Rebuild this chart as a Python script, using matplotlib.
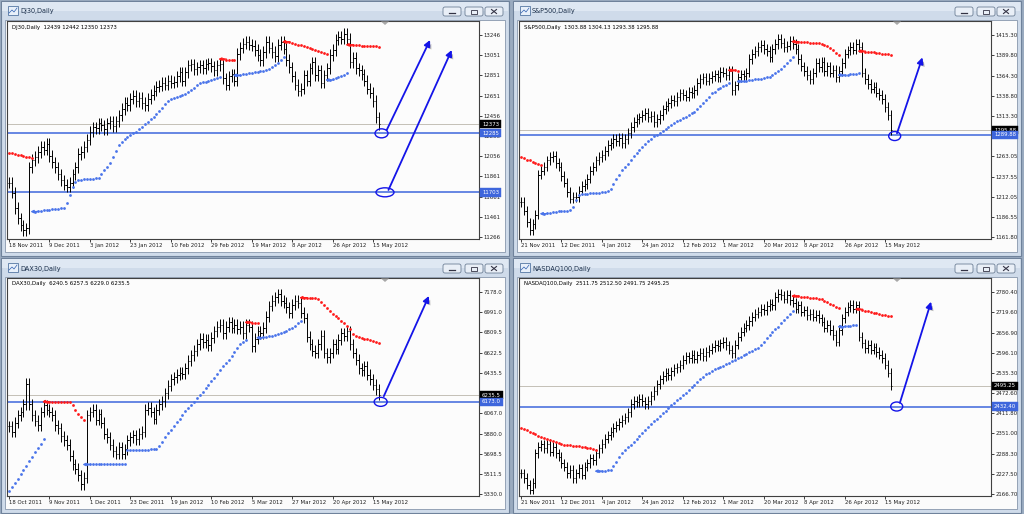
import matplotlib
matplotlib.use("Agg")
import matplotlib.pyplot as plt
from matplotlib.patches import Rectangle, Ellipse, FancyBboxPatch, Polygon
from matplotlib.collections import LineCollection
from matplotlib.transforms import blended_transform_factory
import matplotlib.patheffects as pe

# ---------------- data ----------------
titles = ["DJ30,Daily", "S&P500,Daily", "DAX30,Daily", "NASDAQ100,Daily"]
infos = ["DJ30,Daily  12439 12442 12350 12373",
         "S&P500,Daily  1303.88 1304.13 1293.38 1295.88",
         "DAX30,Daily  6240.5 6257.5 6229.0 6235.5",
         "NASDAQ100,Daily  2511.75 2512.50 2491.75 2495.25"]

dj_dates = ["18 Nov 2011", "9 Dec 2011", "3 Jan 2012", "23 Jan 2012", "10 Feb 2012",
            "29 Feb 2012", "19 Mar 2012", "8 Apr 2012", "26 Apr 2012", "15 May 2012"]
sp_dates = ["21 Nov 2011", "12 Dec 2011", "4 Jan 2012", "24 Jan 2012", "12 Feb 2012",
            "1 Mar 2012", "20 Mar 2012", "8 Apr 2012", "26 Apr 2012", "15 May 2012"]
dax_dates = ["18 Oct 2011", "9 Nov 2011", "1 Dec 2011", "23 Dec 2011", "19 Jan 2012",
             "10 Feb 2012", "5 Mar 2012", "27 Mar 2012", "20 Apr 2012", "15 May 2012"]
ndx_dates = ["21 Nov 2011", "12 Dec 2011", "4 Jan 2012", "24 Jan 2012", "12 Feb 2012",
             "1 Mar 2012", "20 Mar 2012", "8 Apr 2012", "26 Apr 2012", "15 May 2012"]

dj_yticks = [11266, 11461, 11661, 11861, 12056, 12256, 12456, 12651, 12851, 13051, 13246]
sp_yticks = [1161.80, 1186.55, 1212.05, 1237.55, 1263.05, 1288.55, 1313.30, 1338.80, 1364.30, 1389.80, 1415.30]
dax_yticks = [5330.0, 5511.5, 5698.5, 5880.0, 6067.0, 6254.0, 6435.5, 6622.5, 6809.5, 6991.0, 7178.0]
ndx_yticks = [2166.70, 2227.50, 2288.30, 2351.00, 2411.80, 2472.60, 2535.30, 2596.10, 2656.90, 2719.60, 2780.40]

dj_close = [
    11800, 11700, 11550, 11450, 11380, 11330, 11350, 11950, 12020, 12050,
    12100, 12150, 12120, 12180, 12060, 12000, 11950, 11880, 11820, 11780,
    11760, 11800, 11880, 11950, 12080, 12100, 12150, 12220, 12300, 12340,
    12330, 12380, 12360, 12320, 12380, 12400, 12350, 12400, 12460, 12520,
    12580, 12560, 12620, 12650, 12600, 12630, 12580, 12560, 12620, 12660,
    12700, 12740, 12750, 12780, 12760, 12800, 12780, 12790, 12840, 12880,
    12800, 12880, 12950, 12960, 12910, 12930, 12950, 12920, 12960, 12970,
    12940, 12900, 12950, 12960, 12820, 12760, 12840, 12860, 12800, 13060,
    13120, 13160, 13180, 13150, 13140, 13100, 13050, 13000, 13080, 13180,
    13120, 13080, 13040, 13150, 13180, 13110, 13000, 12930, 12840, 12760,
    12700, 12720, 12850, 12800, 12920, 12980, 12850, 12900, 12780, 12850,
    12920, 13050, 13100, 13200, 13230, 13210, 13260, 13210, 12980, 13020,
    12920, 12900, 12860, 12800, 12720, 12680, 12600, 12440, 12373]

sp_close = [
    1206, 1195, 1180, 1170, 1178, 1190, 1240, 1245, 1250, 1258,
    1262, 1264, 1255, 1250, 1238, 1230, 1218, 1210, 1212, 1212,
    1220, 1226, 1228, 1235, 1245, 1250, 1258, 1262, 1265, 1270,
    1277, 1280, 1285, 1282, 1286, 1280, 1285, 1292, 1300, 1306,
    1310, 1312, 1315, 1318, 1312, 1314, 1306, 1310, 1315, 1322,
    1326, 1330, 1334, 1332, 1338, 1342, 1340, 1338, 1344, 1342,
    1346, 1355, 1360, 1362, 1358, 1361, 1364, 1366, 1362, 1369,
    1368, 1365, 1370, 1346, 1352, 1362, 1366, 1364, 1368, 1385,
    1392, 1395, 1400, 1403, 1398, 1395, 1388, 1398, 1404, 1410,
    1405, 1400, 1402, 1408, 1404, 1398, 1385, 1376, 1370, 1365,
    1360, 1368, 1380, 1375, 1382, 1370, 1376, 1368, 1372, 1362,
    1370, 1380, 1392, 1396, 1400, 1397, 1404, 1400, 1368, 1360,
    1354, 1348, 1350, 1343, 1340, 1335, 1325, 1315, 1295.88]

dax_close = [
    5950, 5900, 5980, 6050, 6080, 6150, 6340, 6150, 6050, 6000,
    5960, 6080, 6140, 6100, 6080, 6050, 5960, 5930, 5860, 5820,
    5780, 5680, 5600, 5560, 5500, 5420, 5480, 6050, 6080, 6100,
    6010, 6060, 5980, 5880, 5850, 5780, 5720, 5700, 5760, 5700,
    5740, 5820, 5850, 5870, 5830, 5880, 5900, 6100, 6120, 6080,
    6020, 6100, 6150, 6180, 6250, 6320, 6380, 6400, 6420, 6440,
    6430, 6480, 6550, 6600, 6640, 6700, 6750, 6720, 6740, 6690,
    6760, 6820, 6860, 6880, 6800, 6860, 6900, 6850, 6880, 6840,
    6860, 6800, 6880, 6860, 6680, 6750, 6820, 6800, 6850, 6950,
    7050, 7100, 7130, 7160, 7100, 7080, 7040, 6990, 7060, 7100,
    7080, 6990, 6940, 6770, 6700, 6640, 6620, 6700, 6780, 6620,
    6580, 6620, 6700, 6660, 6740, 6800, 6780, 6820, 6700, 6620,
    6560, 6480, 6460, 6500, 6420, 6380, 6330, 6290, 6235.5]

ndx_close = [
    2230, 2215, 2195, 2180, 2200, 2290, 2310, 2318, 2305, 2320,
    2295, 2310, 2290, 2280, 2260, 2250, 2230, 2240, 2215, 2230,
    2245, 2225, 2250, 2260, 2275, 2270, 2290, 2305, 2320, 2335,
    2345, 2355, 2368, 2375, 2385, 2392, 2400, 2415, 2440, 2450,
    2445, 2455, 2448, 2440, 2450, 2465, 2480, 2500, 2515, 2525,
    2535, 2528, 2540, 2548, 2552, 2560, 2575, 2585, 2580, 2590,
    2578, 2588, 2595, 2585, 2598, 2605, 2612, 2620, 2615, 2625,
    2630, 2618, 2605, 2595, 2620, 2645, 2660, 2672, 2680, 2692,
    2705, 2715, 2720, 2730, 2725, 2738, 2745, 2740, 2765, 2775,
    2770, 2760, 2772, 2755, 2748, 2730, 2740, 2720, 2725, 2710,
    2715, 2705, 2712, 2700, 2690, 2672, 2680, 2665, 2650, 2630,
    2665, 2700, 2720, 2735, 2742, 2730, 2740, 2645, 2625, 2610,
    2620, 2605, 2612, 2598, 2590, 2580, 2560, 2535, 2495.25]

# trailing-stop segments: ("d" = red above price, "u" = blue below price), consecutive bars
dj_stops = [
    ("d", [12090, 12085, 12080, 12072, 12065, 12060, 12055, 12050, 12045]),
    ("u", [11515, 11520, 11523, 11526, 11530, 11533, 11536, 11540, 11543, 11547, 11552,
           11600, 11680, 11760, 11810, 11825,
           11828, 11830, 11832, 11835, 11838, 11840, 11845,
           11880, 11920, 11955, 11990, 12050, 12110, 12170, 12200, 12225, 12245, 12265, 12282, 12300,
           12320, 12345, 12370, 12395, 12420, 12446,
           12475, 12505, 12535, 12565, 12600, 12615,
           12628, 12640, 12650, 12660, 12672, 12685,
           12705, 12730, 12752, 12772,
           12782, 12790, 12800, 12808, 12816, 12825, 12838]),
    ("d", [13010, 13005, 13003, 13000, 12998]),
    ("u", [12850, 12855, 12860, 12865, 12870, 12875, 12880, 12885, 12890, 12898, 12906,
           12915, 12930, 12950, 12975, 13000, 13030]),
    ("d", [13180, 13175, 13168, 13160, 13150, 13145, 13138, 13130, 13120, 13110, 13100,
           13090, 13080, 13068, 13055]),
    ("u", [12805, 12815, 12825, 12835, 12845, 12858, 12870]),
    ("d", [13150, 13148, 13146, 13145, 13143, 13141, 13140, 13138, 13136, 13134, 13132]),
]
sp_stops = [
    ("d", [1262, 1261, 1259, 1258, 1256, 1255, 1253, 1252]),
    ("u", [1191, 1192, 1192, 1193, 1193, 1194, 1194, 1195, 1195, 1196,
           1200, 1208, 1215,
           1216, 1216, 1216, 1217, 1217, 1217, 1217, 1218, 1218, 1219,
           1222, 1228, 1234, 1240, 1246, 1250,
           1254, 1258, 1263, 1267, 1271, 1275, 1279,
           1282, 1285, 1288, 1290, 1292,
           1295, 1297, 1300, 1302, 1305, 1307, 1309,
           1311, 1313, 1315, 1317, 1319,
           1322, 1326, 1330, 1334, 1338, 1342,
           1344, 1347, 1349, 1351, 1353, 1355]),
    ("d", [1371, 1371, 1370]),
    ("u", [1357, 1357.5, 1358, 1358.5, 1359, 1359.5, 1360, 1360.5, 1361, 1362, 1363, 1365,
           1367, 1370, 1373, 1376, 1380, 1384, 1388]),
    ("d", [1407, 1407, 1406.5, 1406, 1406, 1405.5, 1405, 1405, 1405, 1404.5, 1403, 1401,
           1399, 1396, 1393, 1390]),
    ("u", [1365, 1365, 1365.5, 1366, 1366, 1366.5, 1367]),
    ("d", [1395, 1394.5, 1394, 1393.8, 1393.5, 1393, 1392.5, 1392, 1391.5, 1391, 1390.5]),
]
dax_stops = [
    ("u", [5360, 5395, 5430, 5470, 5510, 5550, 5590, 5630, 5670, 5710, 5750, 5790, 5830]),
    ("d", [6175, 6174, 6173, 6172, 6172, 6171, 6170, 6170, 6168, 6140, 6100, 6060, 6030, 6010]),
    ("u", [5600, 5601, 5601, 5602, 5602, 5603, 5603, 5604, 5604, 5605, 5605, 5606, 5606, 5607,
           5730, 5731, 5732, 5733, 5734, 5735, 5736, 5737, 5738, 5739, 5740,
           5770, 5810, 5850, 5885, 5915,
           5950, 5985, 6020, 6055, 6085, 6115,
           6145, 6175, 6205, 6235, 6265, 6300, 6330,
           6360, 6395, 6430, 6465, 6500, 6530, 6560,
           6595, 6630, 6665, 6700, 6725, 6740]),
    ("d", [6900, 6898, 6896, 6894]),
    ("u", [6760, 6765, 6770, 6775, 6780, 6785, 6792, 6800, 6810, 6820, 6835, 6850, 6870,
           6890, 6910]),
    ("d", [7126, 7125, 7124, 7122, 7120, 7115, 7090, 7060, 7030, 7005, 6980, 6960, 6940,
           6915, 6890, 6865, 6840, 6790, 6775, 6768, 6760, 6752, 6745, 6738, 6730, 6722, 6715]),
]
ndx_stops = [
    ("d", [2368, 2364, 2360, 2356, 2352, 2348, 2344, 2340, 2337, 2334, 2331, 2328, 2325,
           2322, 2318, 2317, 2316, 2315, 2314, 2313, 2312, 2311, 2309, 2307, 2305, 2303, 2301]),
    ("u", [2236, 2237, 2238, 2239, 2240, 2252, 2265, 2278, 2290, 2300, 2308,
           2317, 2326, 2335, 2344, 2353, 2362, 2371, 2380, 2388,
           2396, 2404, 2412, 2420, 2428, 2436, 2444, 2452, 2459,
           2467, 2475, 2483, 2491, 2499, 2507, 2515, 2523, 2530,
           2535, 2540, 2545, 2549, 2553, 2557, 2561, 2566, 2570,
           2575, 2579, 2584, 2588, 2593, 2597, 2602, 2606, 2611,
           2620, 2630, 2640, 2650, 2660, 2668, 2675,
           2685, 2695, 2705, 2715, 2723]),
    ("d", [2768, 2767, 2766, 2765, 2764, 2763, 2762, 2761, 2760, 2758, 2754, 2750, 2745,
           2740, 2735, 2731]),
    ("u", [2675, 2676, 2677, 2678, 2679, 2680]),
    ("d", [2728, 2726, 2724, 2722, 2720, 2718, 2716, 2714, 2712, 2710, 2708, 2706]),
]

# horizontal support lines (value, label)
dj_lines = [(12285, "12285"), (11703, "11703")]
sp_lines = [(1289.88, "1289.88")]
dax_lines = [(6173.0, "6173.0")]
ndx_lines = [(2432.40, "2432.40")]

cur_labels = ["12373", "1295.88", "6235.5", "2495.25"]

# drawn annotations: ellipses (bar, price, width px) and arrows (bar0, price0, bar1, price1)
dj_ellipses = [(128.9, 12282, 13), (130.1, 11704, 18)]
sp_ellipses = [(129.3, 1288.5, 12)]
dax_ellipses = [(128.6, 6173, 13)]
ndx_ellipses = [(130.0, 2432.5, 12)]
dj_arrows = [(130.7, 12315, 145.7, 13197), (131.3, 11727, 153.2, 13099)]
sp_arrows = [(130.1, 1291.9, 138.9, 1387.2)]
dax_arrows = [(129.7, 6225, 145.3, 7142)]
ndx_arrows = [(131.1, 2443.6, 141.9, 2751)]

# ---------------- layout / style ----------------
W, H = 1024, 514
BAR_PX = 2.89
LABEL_STEP = 14
FS = 3.9
RED = "#ff1a1a"
BLUE = "#4a74ea"
LINE_BLUE = "#3e66dc"
ARROW_BLUE = "#1414e8"

fig = plt.figure(figsize=(W / 100, H / 100), dpi=100)
fig.patch.set_facecolor("#9aabc0")
bg = fig.add_axes([0, 0, 1, 1])
bg.set_xlim(0, W)
bg.set_ylim(H, 0)
bg.axis("off")

overlay_items = []


def window(ox, oy, title):
    bg.add_patch(Rectangle((ox + 1, oy + 0.5), 508, 255, fc="#cfdbea", ec="#6f829b", lw=0.8))
    bg.add_patch(Rectangle((ox + 2, oy + 1.5), 506, 9, fc="#dfe8f3", ec="none"))
    bg.add_patch(Rectangle((ox + 5, oy + 20), 500, 232, fc="#fbfbfb", ec="#8797ac", lw=0.6))
    # icon
    bg.add_patch(Rectangle((ox + 8, oy + 6), 10, 9, fc="#e8f0fa", ec="#5577a3", lw=0.6))
    bg.plot([ox + 9, ox + 12, ox + 14, ox + 17], [oy + 13, oy + 10, oy + 12, oy + 8],
            color="#3060b0", lw=0.5)
    bg.text(ox + 20, oy + 11.5, title, fontsize=4.7, va="center", ha="left", color="#1b2f4a")
    for k, bx in enumerate((443, 465, 485)):
        bg.add_patch(FancyBboxPatch((ox + bx, oy + 7), 18, 9,
                                    boxstyle="round,pad=0,rounding_size=2",
                                    fc="#e9eff7", ec="#6d7f96", lw=0.6))
        cx, cy = ox + bx + 9, oy + 11.5
        if k == 0:
            bg.plot([cx - 3, cx + 3], [cy + 1.5, cy + 1.5], color="#334", lw=0.9)
        elif k == 1:
            bg.add_patch(Rectangle((cx - 3, cy - 2), 6, 4, fc="none", ec="#334", lw=0.6))
        else:
            bg.plot([cx - 2.5, cx + 2.5], [cy - 2, cy + 2], color="#334", lw=0.8)
            bg.plot([cx - 2.5, cx + 2.5], [cy + 2, cy - 2], color="#334", lw=0.8)


def panel(ox, oy, title, info, closes, stops, yticks, yfmt, dates, lines, cur_label,
          ellipses, arrows, tail):
    window(ox, oy, title)
    x0, x1, y0, y1 = ox + 7, ox + 479, oy + 21, oy + 239
    ax = fig.add_axes([x0 / W, 1 - y1 / H, (x1 - x0) / W, (y1 - y0) / H])
    ax.set_facecolor("#fcfcfc")
    top, bot = yticks[-1], yticks[0]
    pp = (top - bot) / 202.0
    ax.set_ylim(bot - 2 * pp, top + 14 * pp)
    ax.set_xlim(-2 / BAR_PX, 470 / BAR_PX)
    for s in ax.spines.values():
        s.set_color("#404040")
        s.set_linewidth(0.8)
    ax.yaxis.tick_right()
    ax.set_yticks(yticks)
    ax.set_yticklabels([yfmt % v for v in yticks])
    ax.tick_params(axis="y", direction="out", length=2, width=0.6, pad=1.5,
                   labelsize=FS, colors="#202020")
    xt = [i * LABEL_STEP for i in range(len(dates))]
    ax.set_xticks(xt)
    ax.set_xticklabels(dates)
    for lab in ax.get_xticklabels():
        lab.set_ha("left")
    ax.tick_params(axis="x", direction="out", length=2, width=0.6, pad=1,
                   labelsize=FS, colors="#202020")

    # current price line
    ax.axhline(closes[-1], color="#c4c0b6", lw=0.7, zorder=1)
    # support lines
    for v, lab in lines:
        ax.axhline(v, color=LINE_BLUE, lw=1.1, zorder=2)

    # OHLC bars
    segs = []
    for i, c in enumerate(closes):
        o = closes[i - 1] if i > 0 else c
        hi = max(o, c) + tail
        lo = min(o, c) - tail
        segs.append([(i, lo), (i, hi)])
        segs.append([(i - 0.45, o), (i, o)])
        segs.append([(i, c), (i + 0.45, c)])
    ax.add_collection(LineCollection(segs, colors="black", linewidths=0.7, zorder=3))

    # trailing stop dots
    start = 0
    for side, vals in stops:
        col = RED if side == "d" else BLUE
        xs = list(range(start, start + len(vals)))
        ax.plot(xs, vals, "o", ms=2.0, color=col, mec="none", zorder=4)
        ax.annotate("", xy=(start - 1.6, vals[0]), xytext=(start + 1.2, vals[0]),
                    arrowprops=dict(arrowstyle="-|>", color=col, lw=1.0,
                                    mutation_scale=4, shrinkA=0, shrinkB=0), zorder=5)
        start += len(vals)

    # ellipses
    for cx, cy, wpx in ellipses:
        ax.add_patch(Ellipse((cx, cy), wpx / BAR_PX, 9 * pp, fill=False,
                             ec=ARROW_BLUE, lw=1.0, zorder=6))
    # arrows
    for bx0, p0, bx1, p1 in arrows:
        ann = ax.annotate("", xy=(bx1, p1), xytext=(bx0, p0),
                          arrowprops=dict(arrowstyle="-|>", color=ARROW_BLUE, lw=1.3,
                                          mutation_scale=9, shrinkA=0, shrinkB=0), zorder=7)
        ann.arrow_patch.set_path_effects([
            pe.SimplePatchShadow(offset=(1.5, -1.5), shadow_rgbFace="#606060", alpha=0.45),
            pe.Normal()])

    # info text
    ax.text(5 / 472, 1 - 6 / 218, info, transform=ax.transAxes, fontsize=FS,
            va="center", ha="left", color="black")

    # price boxes on the right scale
    tr = blended_transform_factory(ax.transAxes, ax.transData)
    xb = 1 + 3 / 472
    ax.text(xb, closes[-1], cur_label, transform=tr, fontsize=FS, color="white",
            va="center", ha="left", clip_on=False, zorder=10,
            bbox=dict(boxstyle="square,pad=0.3", fc="black", ec="black", lw=0.3))
    for v, lab in lines:
        ax.text(xb, v, lab, transform=tr, fontsize=FS, color="white",
                va="center", ha="left", clip_on=False, zorder=10,
                bbox=dict(boxstyle="square,pad=0.3", fc=LINE_BLUE, ec=LINE_BLUE, lw=0.3))
    overlay_items.append((ox, oy))
    return ax


panel(0, 0, titles[0], infos[0], dj_close, dj_stops, dj_yticks, "%d", dj_dates,
      dj_lines, cur_labels[0], dj_ellipses, dj_arrows, 55)
panel(512, 0, titles[1], infos[1], sp_close, sp_stops, sp_yticks, "%.2f", sp_dates,
      sp_lines, cur_labels[1], sp_ellipses, sp_arrows, 6)
panel(0, 257, titles[2], infos[2], dax_close, dax_stops, dax_yticks, "%.1f", dax_dates,
      dax_lines, cur_labels[2], dax_ellipses, dax_arrows, 50)
panel(512, 257, titles[3], infos[3], ndx_close, ndx_stops, ndx_yticks, "%.2f", ndx_dates,
      ndx_lines, cur_labels[3], ndx_ellipses, ndx_arrows, 14)

top = fig.add_axes([0, 0, 1, 1])
top.set_xlim(0, W)
top.set_ylim(H, 0)
top.axis("off")
top.patch.set_alpha(0)
for ox, oy in overlay_items:
    top.add_patch(Polygon([(ox + 381, oy + 21.5), (ox + 389, oy + 21.5), (ox + 385, oy + 25)],
                          closed=True, fc="#a8a8a8", ec="none"))

fig.savefig("out.png", dpi=100, facecolor=fig.get_facecolor())
